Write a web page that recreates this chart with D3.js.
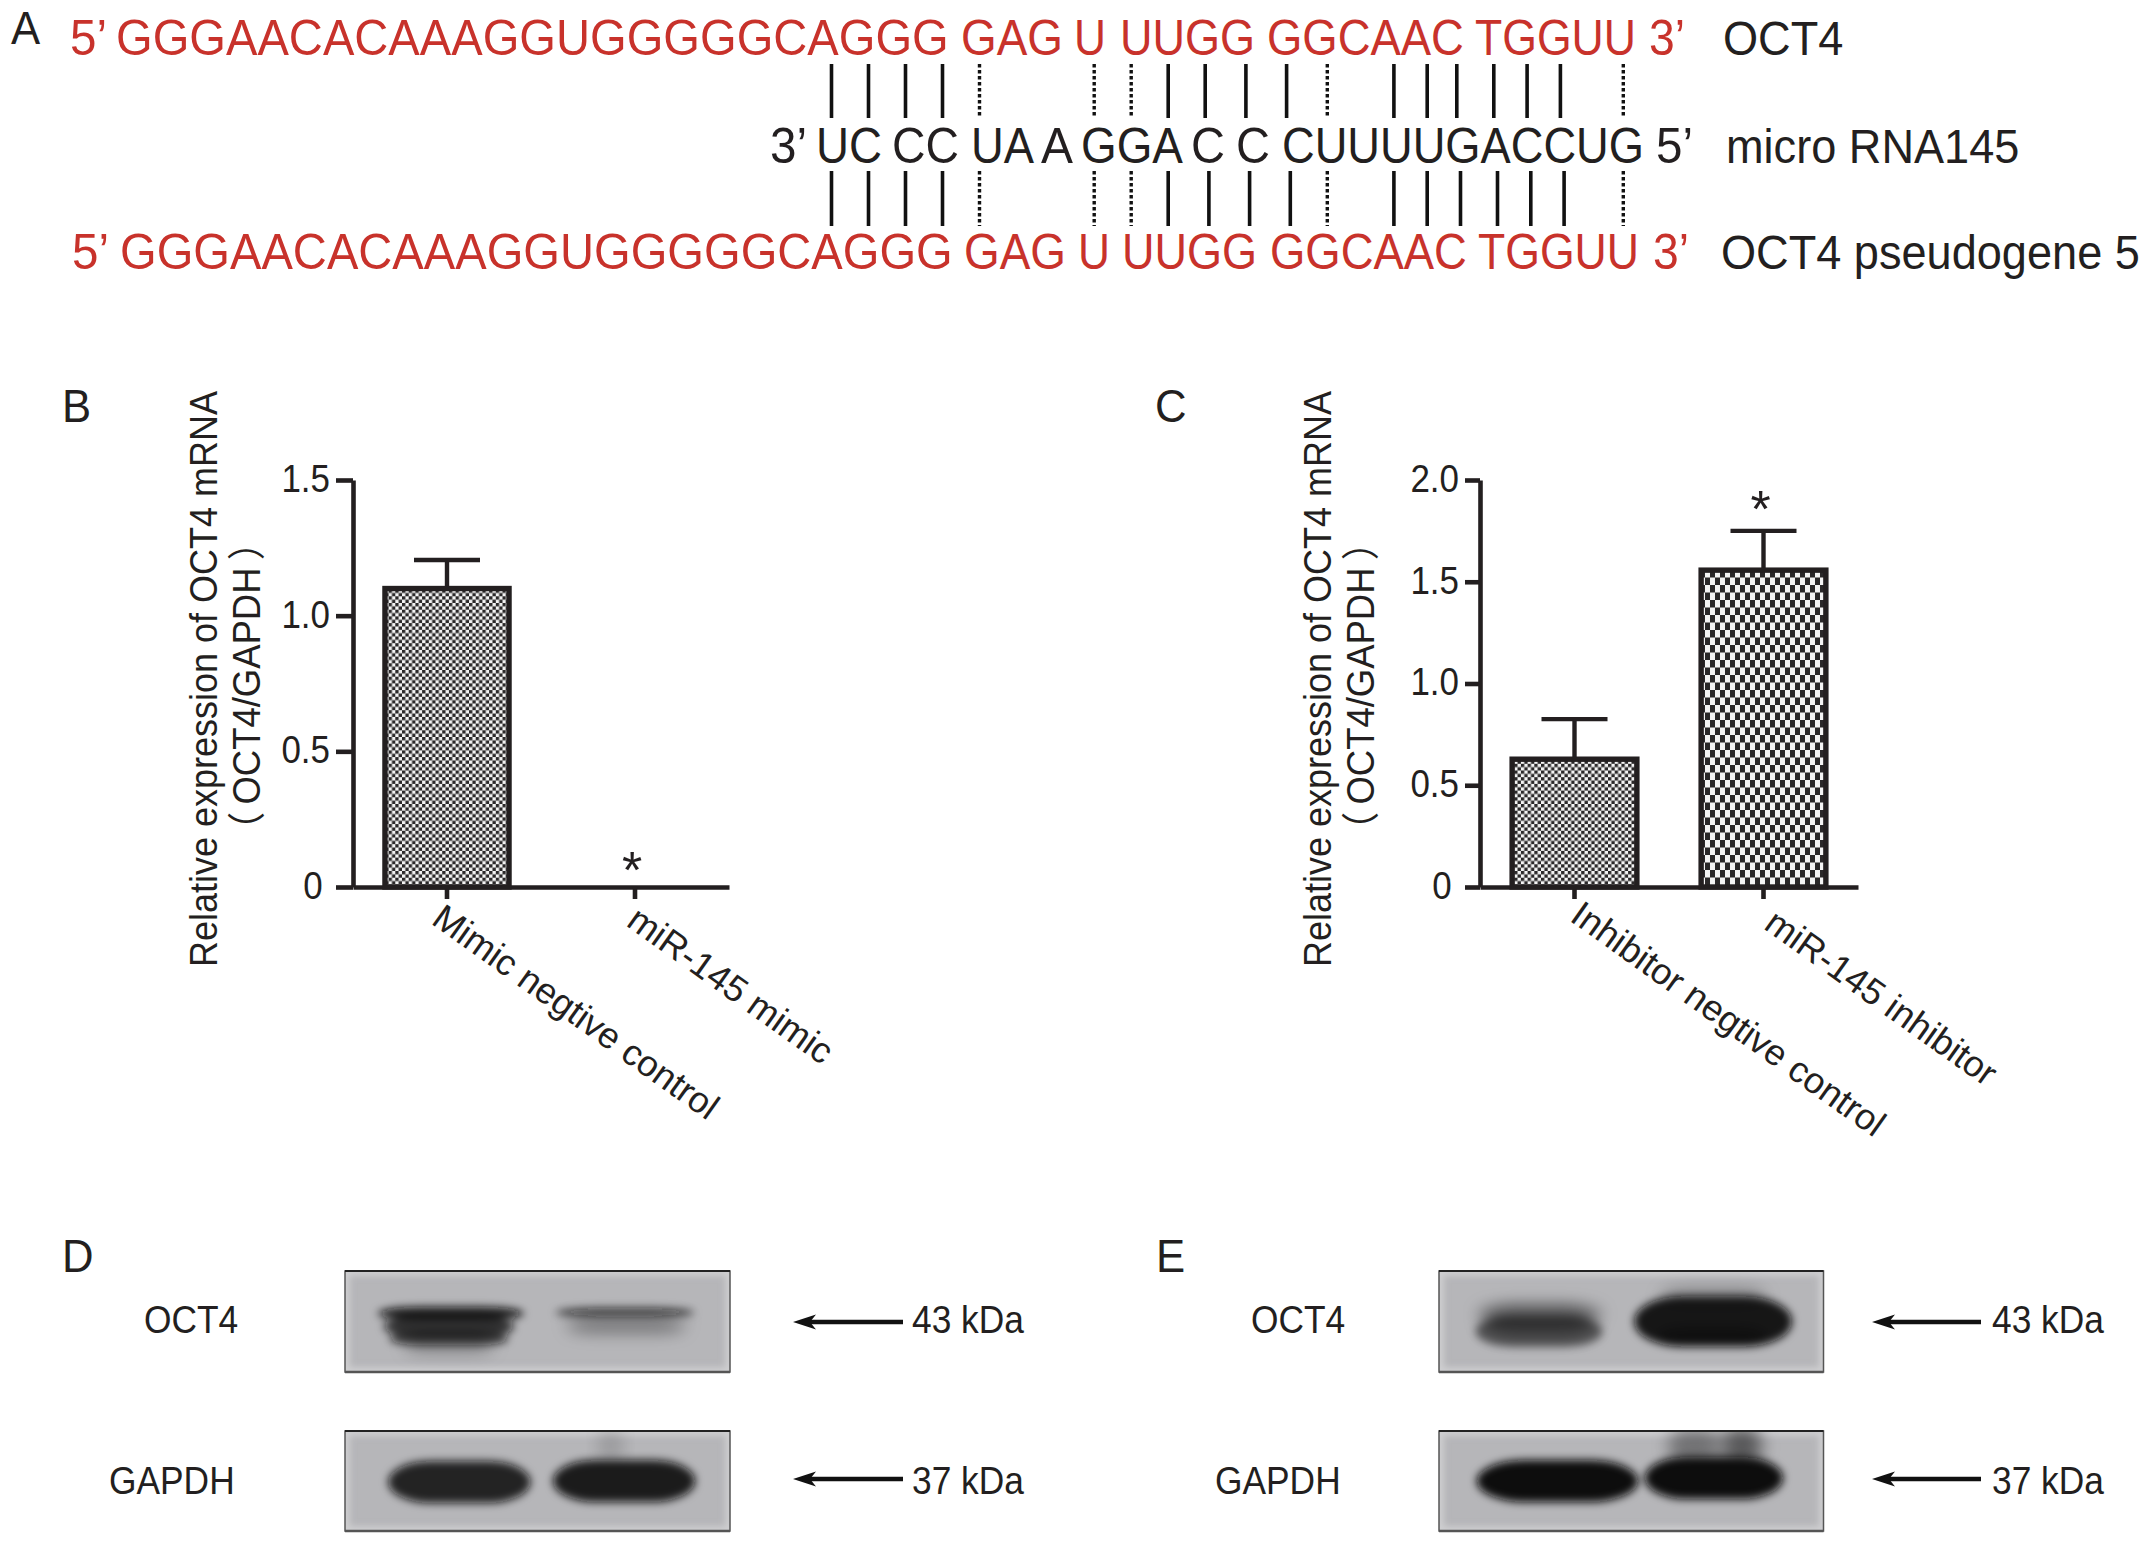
<!DOCTYPE html>
<html><head><meta charset="utf-8">
<script src="https://cdn.jsdelivr.net/npm/d3@7/dist/d3.min.js"></script>
<style>html,body{margin:0;padding:0;background:#fff}svg{display:block}text{font-family:"Liberation Sans",Arial,"Noto Sans CJK SC",sans-serif;fill:#231f20}</style>
</head><body><script>
// ---- Panel A sequences ----
const oct4Segments = ["5’","GGGAACACAAAGGUGGGGGCAGGG","GAG","U","UUGG","GGCAAC","TGGUU","3’"];
const mirSegments = ["3’","UC","CC","UA","A","GGA","C","C","CUUUUGACCUG","5’"];
const seqNames = ["OCT4","micro RNA145","OCT4 pseudogene 5"];
// base pair ladder, read in units of one base step from the first pair
const solidTop = [0,1,2,3,9.1,10.1,11.2,12.3,15.2,16.1,16.9,17.9,18.8,19.7];
const dottedTop = [4,7.1,8.1,13.4,21.4];
const solidBottom = [0,1,2,3,9.1,10.2,11.3,12.4,15.2,16.1,17,18,18.9,19.8];
const dottedBottom = [4,7.1,8.1,13.4,21.4];
// ---- Panels B, C ----
const catsB = ["Mimic negtive control","miR-145 mimic"];
const valsB = [1.1,0];
const errB = [1.205,0];
const starB = [false,true];
const ticksB = [0,0.5,1.0,1.5];
const catsC = ["Inhibitor negtive control","miR-145 inhibitor"];
const valsC = [0.628,1.557];
const errC = [0.825,1.75];
const starC = [false,true];
const ticksC = [0,0.5,1.0,1.5,2.0];
const yTitle = ["Relative expression of OCT4 mRNA","（\u2009OCT4/GAPDH\u2009）"];
// ---- Panels D, E: band readings [centre, middle, width, height, darkness] in % of the blot ----
const blotLabels = ["OCT4","GAPDH"];
const blotSizes = ["43 kDa","37 kDa"];
const bandsDoct = [[27,76,24,10,.3],[27,67,31,14,.72],[27,55,34,20,.8],[27.5,42,38,13,.92],[73,56,31,12,.35],[73,48,33,6,.3],[72.7,41,36,9,.68]];
const bandsDgap = [[69,15,7,34,.14],[29.7,51,37,42,.88],[72.5,50,37,42,.92]];
const bandsEoct = [[26,50,30,32,.4],[26.3,42,33,18,.3],[26,60,33,30,.5],[71.3,25,28,18,.25],[71.3,50,41,50,.95],[71,64,28,18,.6]];
const bandsEgap = [[66,14,12,40,.2],[79,14,9,40,.38],[72,16,26,34,.22],[30.8,50,42,42,1],[71.5,47,36,42,1]];

const W=2150,H=1544,ink="#231f20",red="#c8322b";
const svg=d3.select("body").append("svg").attr("width",W).attr("height",H).attr("viewBox",`0 0 ${W} ${H}`);
const defs=svg.append("defs");
// narrows a text horizontally, keeping its anchor point
const fit=(sel,f)=>sel.each(function(){
  const x=+this.getAttribute("x")||0,y=+this.getAttribute("y")||0,t=this.getAttribute("transform")||"";
  const k=typeof f==="function"?f(this):f;
  this.setAttribute("x",0);this.setAttribute("y",0);
  this.setAttribute("transform",`${t} translate(${x},${y}) scale(${k},1)`);
});

// patterns
function checker(id,pw,ph){
  const p=defs.append("pattern").attr("id",id).attr("patternUnits","userSpaceOnUse").attr("width",pw).attr("height",ph);
  p.append("rect").attr("width",pw).attr("height",ph).attr("fill","#f4f4f4");
  p.append("rect").attr("width",pw/2).attr("height",ph/2).attr("fill","#2a2829");
  p.append("rect").attr("x",pw/2).attr("y",ph/2).attr("width",pw/2).attr("height",ph/2).attr("fill","#2a2829");
}
checker("fine",6.7,6.7); checker("coarse",10,15);
const bl=(id,s)=>defs.append("filter").attr("id",id).attr("x","-40%").attr("y","-80%").attr("width","180%").attr("height","260%").append("feGaussianBlur").attr("stdDeviation",s);
bl("blur",4.5);bl("soft",8);bl("edge",3);

const letter=(t,x,y)=>fit(svg.append("text").text(t).attr("x",x).attr("y",y).attr("font-size",47),.93);
letter("A",11,44);letter("B",62,422);letter("C",1155,422);letter("D",62,1272);letter("E",1156,1272);

// Panel A
const seqX1=[70,116,961,1074,1120,1267,1475,1649], seqX2=[72,120,964,1078,1122,1270,1478,1653];
const seqW=[37,833,102,32,135,197,161,36];
const mirX=[770,816,892,971,1041,1081,1191,1236,1282,1656];
const mirW=[37,66,67,63,32,102,34,34,362,37];
const seqG=svg.append("g");
function seq(segs,xs,ws,y,col){
  seqG.selectAll(null).data(segs).join("text").text(d=>d).attr("x",(d,i)=>xs[i]).attr("y",y).style("fill",col).attr("font-size",50)
    .each(function(d,i){d3.select(this).call(fit,ws[i]/this.getComputedTextLength());});
}
seq(oct4Segments,seqX1,seqW,55,red);seq(mirSegments,mirX,mirW,163,ink);seq(oct4Segments,seqX2,seqW,269,red);
[[1723,55],[1726,163],[1721,269]].forEach((p,i)=>fit(svg.append("text").text(seqNames[i]).attr("x",p[0]).attr("y",p[1]).attr("font-size",48),.94));
const pairScale=d3.scaleLinear().domain([0,1]).range([831.5,868.5]);
function ladder(vals,y0,y1,dotted){
  svg.append("g").selectAll("line").data(vals).join("line")
   .attr("x1",d=>pairScale(d)).attr("x2",d=>pairScale(d)).attr("y1",y0).attr("y2",y1)
   .attr("stroke","#111").attr("stroke-width",dotted?3.4:3.6).attr("stroke-dasharray",dotted?"3.5 2.5":null);
}
ladder(solidTop,64,118,false);ladder(dottedTop,64,118,true);ladder(solidBottom,171,226,false);ladder(dottedBottom,171,226,true);

// Bar panels
function barPanel(o){
  const y=d3.scaleLinear().domain([0,o.max]).range([887,480]);
  const x=d3.scaleBand().domain(o.cats).range(o.xr).paddingInner(.34).paddingOuter(.17);
  const g=svg.append("g");
  const ya=d3.axisLeft(y).tickValues(o.ticks).tickSize(o.tick).tickSizeOuter(0).tickPadding(6).tickFormat(d=>d===0?"0":d3.format(".1f")(d));
  const ag=g.append("g").attr("transform",`translate(${o.xr[0]},0)`).call(ya);
  ag.selectAll("text").attr("font-size",38).attr("dy",".3em").attr("dx",d=>d===0?-8:0).style("font-family",'"Liberation Sans"').style("fill",ink).call(fit,.92);
  ag.selectAll("line,path").attr("stroke",ink).attr("stroke-width",4.6);
  const xa=d3.axisBottom(x).tickSize(12).tickSizeOuter(0).tickFormat("");
  const xg=g.append("g").attr("transform","translate(0,887)").call(xa);
  xg.selectAll("line,path").attr("stroke",ink).attr("stroke-width",4.6);
  const data=o.cats.map((c,i)=>({c,v:o.vals[i],e:o.err[i],s:o.star[i],p:o.pat[i],ox:o.lab[i][0],oy:o.lab[i][1]}));
  const bars=data.filter(d=>d.v>0);
  const mid=d=>x(d.c)+x.bandwidth()/2;
  g.selectAll(".eb").data(bars).join("line").attr("x1",mid).attr("x2",mid).attr("y1",d=>y(d.v)).attr("y2",d=>y(d.e)).attr("stroke",ink).attr("stroke-width",4.4);
  g.selectAll(".cap").data(bars).join("line").attr("x1",d=>mid(d)-33).attr("x2",d=>mid(d)+33).attr("y1",d=>y(d.e)).attr("y2",d=>y(d.e)).attr("stroke",ink).attr("stroke-width",4.4);
  g.selectAll(".bar").data(bars).join("rect").attr("x",d=>x(d.c)).attr("width",x.bandwidth()).attr("y",d=>y(d.v)).attr("height",d=>y(0)-y(d.v)).attr("fill",d=>`url(#${d.p})`).attr("stroke",ink).attr("stroke-width",5.4);
  g.selectAll(".star").data(data.filter(d=>d.s)).join("text").text("*").attr("text-anchor","middle").attr("font-size",52)
    .attr("x",d=>mid(d)-3).attr("y",d=>y(d.e)+o.starDy);
  g.selectAll(".xl").data(data).join("text").text(d=>d.c).attr("font-size",36.3)
    .attr("transform",d=>`translate(${mid(d)+d.ox},${887+d.oy}) rotate(35.5)`);
  yTitle.forEach((t,i)=>{
    fit(g.append("text").text(t).attr("text-anchor","middle").attr("font-size",38)
     .attr("transform",`translate(${o.tx[i]},${i?686:679}) rotate(-90)`),i?.96:.947);
  });
}
barPanel({cats:catsB,vals:valsB,err:errB,star:starB,ticks:ticksB,max:1.5,xr:[353,729],tick:17,pat:["fine","fine"],lab:[[-17,36],[-10,38]],tx:[217,260],starDy:1});
barPanel({cats:catsC,vals:valsC,err:errC,star:starC,ticks:ticksC,max:2,xr:[1480,1858],tick:15,pat:["fine","coarse"],lab:[[-6,33],[-1,41]],tx:[1331,1374],starDy:-4});

// Blots
let clipN=0;
function blot(x0,x1,y0,y1,bands){
  const sx=d3.scaleLinear().domain([0,100]).range([x0,x1]), sy=d3.scaleLinear().domain([0,100]).range([y0,y1]);
  const id="c"+(clipN++);
  defs.append("clipPath").attr("id",id).append("rect").attr("x",x0).attr("y",y0).attr("width",x1-x0).attr("height",y1-y0);
  const g=svg.append("g");
  g.append("rect").attr("x",x0).attr("y",y0).attr("width",x1-x0).attr("height",y1-y0).attr("fill","#b6b6b9");
  const c=g.append("g").attr("clip-path",`url(#${id})`);
  c.append("rect").attr("x",x0).attr("y",y0).attr("width",x1-x0).attr("height",y1-y0).attr("fill","none").attr("stroke","#cfcfd1").attr("stroke-width",9).attr("filter","url(#edge)");
  const draw=(sel,list)=>sel.selectAll("rect").data(list).join("rect")
   .attr("x",d=>sx(d[0]-d[2]/2)).attr("width",d=>sx(d[2])-sx(0))
   .attr("y",d=>sy(d[1]-d[3]/2)).attr("height",d=>sy(d[3])-sy(0))
   .attr("rx",d=>(sx(d[2])-sx(0))*.3).attr("ry",d=>(sy(d[3])-sy(0))/2)
   .attr("fill","#0b0b0b").attr("fill-opacity",d=>d[4]);
  draw(c.append("g").attr("filter","url(#soft)"),bands.filter(d=>d[4]<.45));
  draw(c.append("g").attr("filter","url(#blur)"),bands.filter(d=>d[4]>=.45));
  g.append("rect").attr("x",x0).attr("y",y0).attr("width",x1-x0).attr("height",y1-y0).attr("fill","none").attr("stroke","#555").attr("stroke-width",1.5);
  g.append("line").attr("x1",x0).attr("x2",x1).attr("y1",y0).attr("y2",y0).attr("stroke","#222").attr("stroke-width",2);
  g.append("line").attr("x1",x0).attr("x2",x1).attr("y1",y1).attr("y2",y1).attr("stroke","#555").attr("stroke-width",2.5);
}
blot(345,730,1271,1372,bandsDoct);blot(345,730,1431,1531,bandsDgap);
blot(1439,1823.5,1271,1372,bandsEoct);blot(1439,1823.5,1431,1531,bandsEgap);

function arrow(x0,x1,y){
  svg.append("line").attr("x1",x0+14).attr("x2",x1).attr("y1",y).attr("y2",y).attr("stroke","#111").attr("stroke-width",4.5);
  svg.append("path").attr("d",d3.line()([[x0,y],[x0+23,y-7.5],[x0+17,y],[x0+23,y+7.5]])+"Z").attr("fill","#111");
}
function blotText(lx,gx,ax0,ax1,sx){
  [[lx,1333,1322],[gx,1494,1479]].forEach((p,i)=>{
    fit(svg.append("text").text(blotLabels[i]).attr("x",p[0]).attr("y",p[1]).attr("font-size",38),.93);
    fit(svg.append("text").text(blotSizes[i]).attr("x",sx).attr("y",p[1]).attr("font-size",38),.93);
    arrow(ax0,ax1,p[2]);
  });
}
blotText(144,109,793,903,912);blotText(1251,1215,1872,1981,1992);
</script></body></html>
